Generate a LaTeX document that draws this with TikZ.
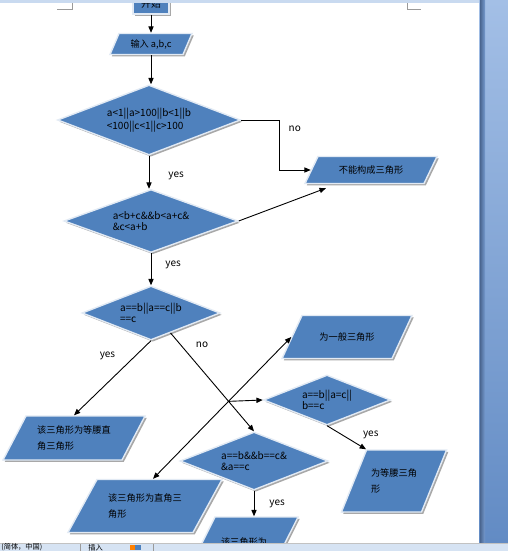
\documentclass[tikz,border=0pt]{standalone}
\usepackage{fontspec}
\newfontfamily\cnfont{Noto Sans CJK SC}
\usetikzlibrary{arrows.meta,positioning,calc,shapes.geometric,shadows}
\definecolor{cShape}{HTML}{4F81BD}
\definecolor{cRim}{HTML}{E2EAF4}
\definecolor{cShade}{HTML}{A8A8A8}
\definecolor{cBarTop}{HTML}{C9DAF0}
\definecolor{cSideTop}{HTML}{A3BFE6}
\definecolor{cSideBot}{HTML}{628BC4}
\definecolor{cSideDark}{HTML}{4A6690}
\definecolor{cStatus}{HTML}{D6E3F3}
\definecolor{cMark}{HTML}{9A9A9A}

\begin{document}
\begin{tikzpicture}[x=0.5pt,y=-0.5pt,
  box/.style={fill=cShape,draw=cRim,line width=0.7pt,inner sep=0pt,
    drop shadow={shadow xshift=0.9pt,shadow yshift=-0.9pt,fill=cShade,opacity=1},
    font=\cnfont\fontsize{5}{5.4}\selectfont},
  io/.style 2 args={box,trapezium,trapezium left angle=#1,trapezium right angle=#2},
  intext/.style={font=\cnfont\fontsize{4.6}{5.2}\selectfont,align=left,inner sep=0pt},
  test/.style={box,diamond,aspect=2.6,align=left},
  arr/.style={-{Triangle[length=3.2pt,width=2.6pt]},line width=0.45pt},
  lbl/.style={font=\cnfont\fontsize{5}{6}\selectfont,inner sep=0pt}]
  \useasboundingbox (0,0) rectangle (508,551);
  \fill[white] (0,0) rectangle (479,543);
  % page corner marks
  \draw[cMark,line width=0.4pt] (72,3) -- (72,9) -- (57,9);
  \draw[cMark,line width=0.4pt] (407,3) -- (407,9) -- (421,9);

  \node[box,minimum width=18pt,minimum height=10pt] (start) at (151,4) {开始};
  \node[io={66.8}{113.2},inner xsep=16pt,inner ysep=5.25pt,
    label={[intext]center:输入 a,b,c}] (in) at (151,44) {};
  \node[test,minimum width=91.5pt,minimum height=35pt] (d1) at (149,120) {a<1||a>100||b<1||b\\<100||c<1||c>100};
  \node[io={64.3}{115.7},inner xsep=26.5pt,inner ysep=6.75pt,
    label={[intext]center:不能构成三角形}] (fail) at (371,170) {};
  \node[test,minimum width=87pt,minimum height=31.5pt] (d2) at (151,221) {a<b+c\&\&b<a+c\&\\\&c<a+b};
  \node[test,minimum width=69pt,minimum height=27pt] (d3) at (151,313) {a==b||a==c||b\\==c};
  \node[io={65.1}{114.9},inner xsep=22.5pt,inner ysep=10.75pt,
    label={[intext]center:为一般三角形}] (yiban) at (347,337) {};
  \node[test,minimum width=63.5pt,minimum height=25pt] (d4) at (327,400) {a==b||a=c||\\b==c};
  \node[io={62.4}{117.6},inner xsep=24pt,inner ysep=11pt,
    label={[intext]center:{该三角形为等腰直\\[2.5pt]角三角形}}] (dyzj) at (74,438) {};
  \node[test,minimum width=74pt,minimum height=29pt] (d5) at (254,461) {a==b\&\&b==c\&\\\&a==c};
  \node[io={68}{112},inner xsep=13.75pt,inner ysep=15.5pt,
    label={[intext]center:{为等腰三角\\[2.5pt]形}}] (dengyao) at (394,481) {};
  \node[io={61.3}{118.7},inner xsep=24pt,inner ysep=13.25pt,
    label={[intext]center:{该三角形为直角三\\[2.5pt]角形}}] (zhijiao) at (145,506) {};
  \node[io={63.4}{116.6},inner xsep=14.5pt,inner ysep=12.5pt,
    label={[intext]center:该三角形为}] (dengbian) at (244,542) {};

  \draw[arr] (start.south) -- (start.south |- in.north);
  \draw[arr] (in.south) -- (in.south |- d1.north);
  \draw[arr] (d1.east) -- ++(38,0) node[lbl,below right=2.5pt and 4.5pt] {no} |- (fail.west);
  \draw[arr] (d1.south) -- (d1.south |- d2.north) node[lbl,pos=0.6,right=9.5pt] {yes};
  \draw[arr] (d2.east) -- ([xshift=11pt,yshift=-2pt]fail.bottom left corner);
  \draw[arr] (d2.south) -- (d2.south |- d3.north) node[lbl,pos=0.37,right=7pt] {yes};
  \draw[arr] (d3.south) -- (dyzj.north) node[lbl,pos=0.2,left=10pt] {yes};
  \coordinate (nostart) at ($(d3.south)!0.28!(d3.east)$);
  \coordinate (zjtop) at ([xshift=4pt]zhijiao.north);
  \draw[arr] (nostart) -- (d5.north) node[lbl,pos=0.12,right=7.5pt] {no};
  \draw[{Triangle[length=3.2pt,width=2.6pt]}-{Triangle[length=3.2pt,width=2.6pt]},line width=0.45pt]
    (zjtop) -- (yiban.west);
  \coordinate (hub) at (intersection of nostart--d5.north and zjtop--yiban.west);
  \draw[arr] (hub) -- (d4.west);
  \draw[arr] (d4.south) -- (dengyao.top left corner) node[lbl,pos=0.4,right=10pt] {yes};
  \draw[arr] (d5.south) -- (d5.south |- dengbian.north) node[lbl,pos=0.5,right=7.5pt] {yes};

  % window frame
  \fill[cBarTop] (0,0) rectangle (479,3);
  \shade[top color=cSideTop,bottom color=cSideBot] (479,0) rectangle (508,543);
  \shade[left color=cSideDark,right color=cSideBot!70!cSideTop] (480,0) rectangle (485,543);
  \fill[cStatus] (0,543) rectangle (508,551);
  \draw[cMark!60,line width=0.4pt] (0,543) -- (508,543);
  \node[lbl,font=\cnfont\fontsize{3.6}{4}\selectfont,anchor=west] (lang) at (1,547.3) {(简体，中国)};
  \node[lbl,font=\cnfont\fontsize{3.6}{4}\selectfont,anchor=west] (mode) at (88,547.3) {插入};
  \draw[cMark,line width=0.4pt] (80,544) -- (80,551) (153,544) -- (153,551);
  \fill[orange] (130,545) rectangle (135,550);
  \fill[cShape] (135,545) rectangle (141,550);
\end{tikzpicture}
\end{document}
